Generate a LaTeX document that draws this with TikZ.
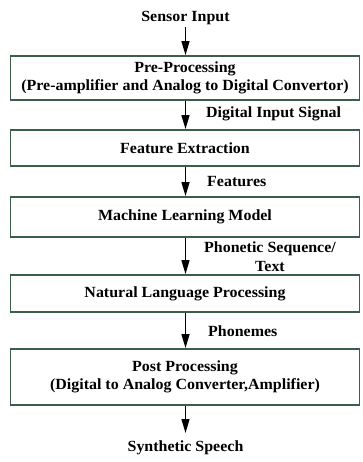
\documentclass[tikz,border=0pt]{standalone}
\usepackage{fontspec}
\setmainfont{Liberation Serif}[FakeStretch=1.03]
\usetikzlibrary{arrows.meta}
\definecolor{boxline}{HTML}{3A5E48}
\tikzset{
  procbox/.style={draw=boxline, line width=1.8pt, minimum width=349pt, align=center, inner sep=0pt, font=\bfseries\fontsize{15.5}{17.5}\selectfont},
  lbl/.style={font=\bfseries\fontsize{15.5}{19}\selectfont, align=center, inner sep=0pt},
  flow/.style={line width=1.3pt, -{Triangle[width=8pt,length=14pt]}}
}
\begin{document}
\begin{tikzpicture}[x=1pt,y=-1pt]
\useasboundingbox (0,0) rectangle (362,462);
\node[lbl] (in) at (185.5,18) {Sensor Input};
\node[procbox, minimum height=44pt] (b1) at (185,78) {Pre-Processing\\(Pre-amplifier and Analog to Digital Convertor)};
\node[procbox, minimum height=36pt] (b2) at (185,148) {Feature Extraction};
\node[procbox, minimum height=40pt] (b3) at (185,217) {Machine Learning Model};
\node[procbox, minimum height=37pt] (b4) at (185,293.5) {Natural Language Processing};
\node[procbox, minimum height=56pt] (b5) at (185,377) {Post Processing\\(Digital to Analog Converter,Amplifier)};
\node[lbl] (out) at (185.5,448) {Synthetic Speech};
\coordinate (outtop) at (185.5,433);
\node[lbl, anchor=west] (l1) at (206,113.5) {Digital Input Signal};
\node[lbl, anchor=west] (l2) at (207,182) {Features};
\node[lbl] (l3) at (270,257) {Phonetic Sequence/\\Text};
\node[lbl, anchor=west] (l4) at (208,331) {Phonemes};
\draw[flow] (185.5,27) -- (b1.north -| 185.5,0);
\draw[flow] (b1.south -| 185.5,0) -- (b2.north -| 185.5,0);
\draw[flow] (b2.south -| 185.5,0) -- (b3.north -| 185.5,0);
\draw[flow] (b3.south -| 185.5,0) -- (b4.north -| 185.5,0);
\draw[flow] (b4.south -| 185.5,0) -- (b5.north -| 185.5,0);
\draw[flow] (b5.south -| 185.5,0) -- (outtop);
\end{tikzpicture}
\end{document}
